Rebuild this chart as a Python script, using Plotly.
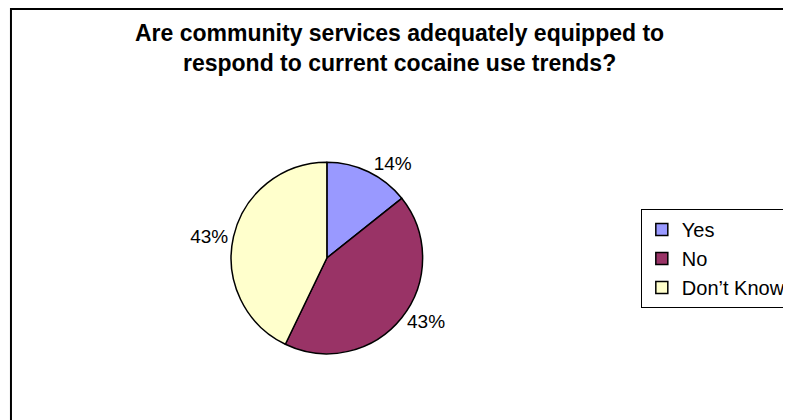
import plotly.graph_objects as go

# page body has an 8px margin, so figure is sized to fill the rest of the window
OFF = 8
W, H = 791 - OFF, 420 - OFF

title_lines = ["Are community services adequately equipped to",
               "respond to current cocaine use trends?"]
categories = ["Yes", "No", "Don\u2019t Know"]
counts = [1, 3, 3]
colors = ["#9999FF", "#993366", "#FFFFCC"]

FONT = "Liberation Sans, Arial, sans-serif"


def px(x):
    return (x - OFF) / W


def py(y):
    return 1 - (y - OFF) / H


# pie geometry in screen pixels
cx, cy, r = 331, 258, 97

fig = go.Figure()
fig.add_trace(go.Pie(
    labels=categories,
    values=counts,
    sort=False,
    direction="clockwise",
    rotation=0,
    marker=dict(colors=colors, line=dict(color="#000000", width=1.5)),
    textposition="outside",
    texttemplate="%{percent:.0%}",
    textfont=dict(family=FONT, size=19, color="#000000"),
    hoverinfo="label+percent",
    automargin=False,
    domain=dict(x=[px(cx - r), px(cx + r)], y=[py(cy + r), py(cy - r)]),
))

fig.add_annotation(text="<b>" + "<br>".join(title_lines) + "</b>",
                   xref="paper", yref="paper",
                   x=px(405), y=py(48), xanchor="center", yanchor="middle",
                   showarrow=False,
                   font=dict(family=FONT, size=23, color="#000000"))

# chart-area border (cropped at right and bottom)
fig.add_shape(type="rect", xref="paper", yref="paper",
              x0=px(11), y0=py(9), x1=1.3, y1=-0.3,
              line=dict(color="#000000", width=2), fillcolor="rgba(0,0,0,0)", layer="below")

fig.update_layout(
    width=W, height=H,
    margin=dict(l=0, r=0, t=0, b=0),
    paper_bgcolor="#FFFFFF",
    plot_bgcolor="#FFFFFF",
    showlegend=True,
    legend=dict(x=px(649), xanchor="left", y=py(209), yanchor="top",
                bgcolor="#FFFFFF", bordercolor="#000000", borderwidth=1,
                font=dict(family=FONT, size=20, color="#000000")),
)

fig.write_html("out.html")
